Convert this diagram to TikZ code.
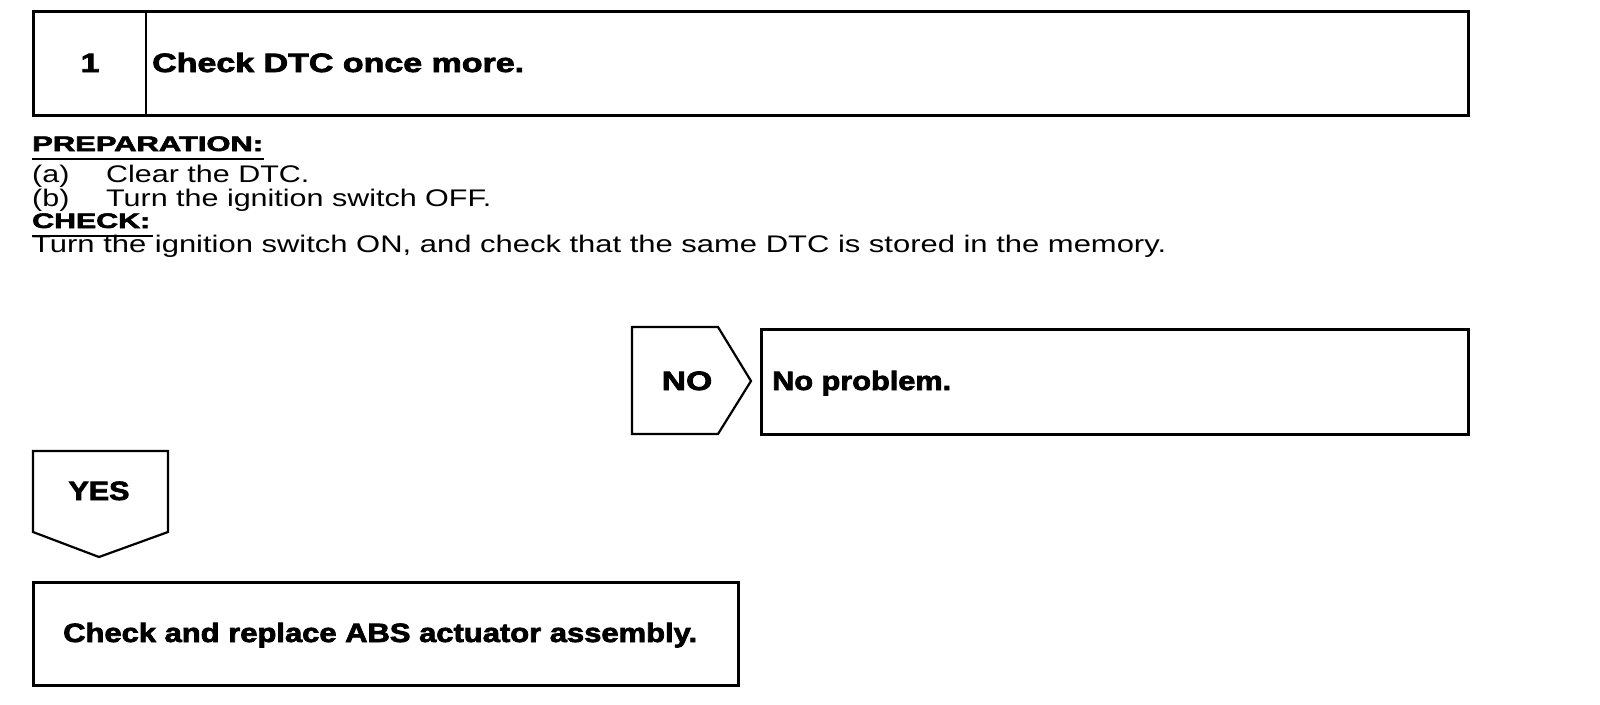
\documentclass[tikz,border=0pt]{standalone}
\usepackage{fontspec}
\setmainfont{Liberation Sans}[BoldFeatures={FakeBold=2.5}]
\newlength\mylen
\newcommand\fw[2]{\settowidth\mylen{#2}\scalebox{\fpeval{#1/\mylen}}[1]{#2}}
\newcommand\sx[1]{\scalebox{1.27}[1]{#1}}
\tikzset{
  frame/.style={draw=black, line width=2.6pt, inner sep=0pt},
  bigb/.style={font=\fontsize{26.5}{30}\selectfont\bfseries, inner sep=0pt},
  midb/.style={font=\fontsize{21}{25}\selectfont\bfseries, inner sep=0pt},
  reg/.style={font=\fontsize{24}{28}\selectfont, inner sep=0pt},
  uline/.style={line width=2pt},
  pent/.style={line width=2.2pt, line join=miter},
}
\begin{document}
\begin{tikzpicture}[x=1pt,y=-1pt]
\useasboundingbox (0,0) rectangle (1600,704);
\fill[white] (0,0) rectangle (1600,704);
% step box
\node[frame, minimum width=1435pt, minimum height=104pt, anchor=north west] (top) at (32,10) {};
\coordinate (divt) at (146,10);
\coordinate (divb) at (146,114);
\draw[line width=2.6pt] (divt) -- (divb);
\node[bigb, anchor=base] (num) at (90,72) {\sx{1}};
\node[bigb, anchor=base west] (title) at (152,72) {\fw{372pt}{Check DTC once more.}};
% preparation
\node[midb, anchor=base west] (prep) at (32,151) {\fw{231pt}{PREPARATION:}};
\coordinate (pu1) at (32,159);
\coordinate (pu2) at (264,159);
\draw[uline] (pu1) -- (pu2);
\node[reg, anchor=base west] (la) at (32,182) {\sx{(a)}};
\node[reg, anchor=base west] (ta) at (106,182) {\sx{Clear the DTC.}};
\node[reg, anchor=base west] (lb) at (32,206) {\sx{(b)}};
\node[reg, anchor=base west] (tb) at (106,206) {\sx{Turn the ignition switch OFF.}};
\node[midb, anchor=base west] (chk) at (32,228) {\fw{118pt}{CHECK:}};
\coordinate (cu1) at (32,236);
\coordinate (cu2) at (153,236);
\draw[uline] (cu1) -- (cu2);
\node[reg, anchor=base west] (tc) at (32,252) {\fw{1134pt}{Turn the ignition switch ON, and check that the same DTC is stored in the memory.}};
% NO branch
\coordinate (n1) at (632,327);
\coordinate (n2) at (718,327);
\coordinate (n3) at (751,381);
\coordinate (n4) at (718,434);
\coordinate (n5) at (632,434);
\draw[pent] (n1) -- (n2) -- (n3) -- (n4) -- (n5) -- cycle;
\node[bigb, anchor=base] (no) at (687,390) {\sx{NO}};
\node[frame, minimum width=707pt, minimum height=105pt, anchor=north west] (nobox) at (760,328) {};
\node[bigb, anchor=base west] (nop) at (772,390) {\fw{179pt}{No problem.}};
% YES branch
\coordinate (y1) at (33,451);
\coordinate (y2) at (168,451);
\coordinate (y3) at (168,532);
\coordinate (y4) at (99,557);
\coordinate (y5) at (33,532);
\draw[pent] (y1) -- (y2) -- (y3) -- (y4) -- (y5) -- cycle;
\node[bigb, anchor=base] (yes) at (99,500) {\fw{61pt}{YES}};
\node[frame, minimum width=705pt, minimum height=103pt, anchor=north west] (abox) at (32,581) {};
\node[bigb, anchor=base west] (atxt) at (63,642) {\fw{634pt}{Check and replace ABS actuator assembly.}};
\end{tikzpicture}
\end{document}
